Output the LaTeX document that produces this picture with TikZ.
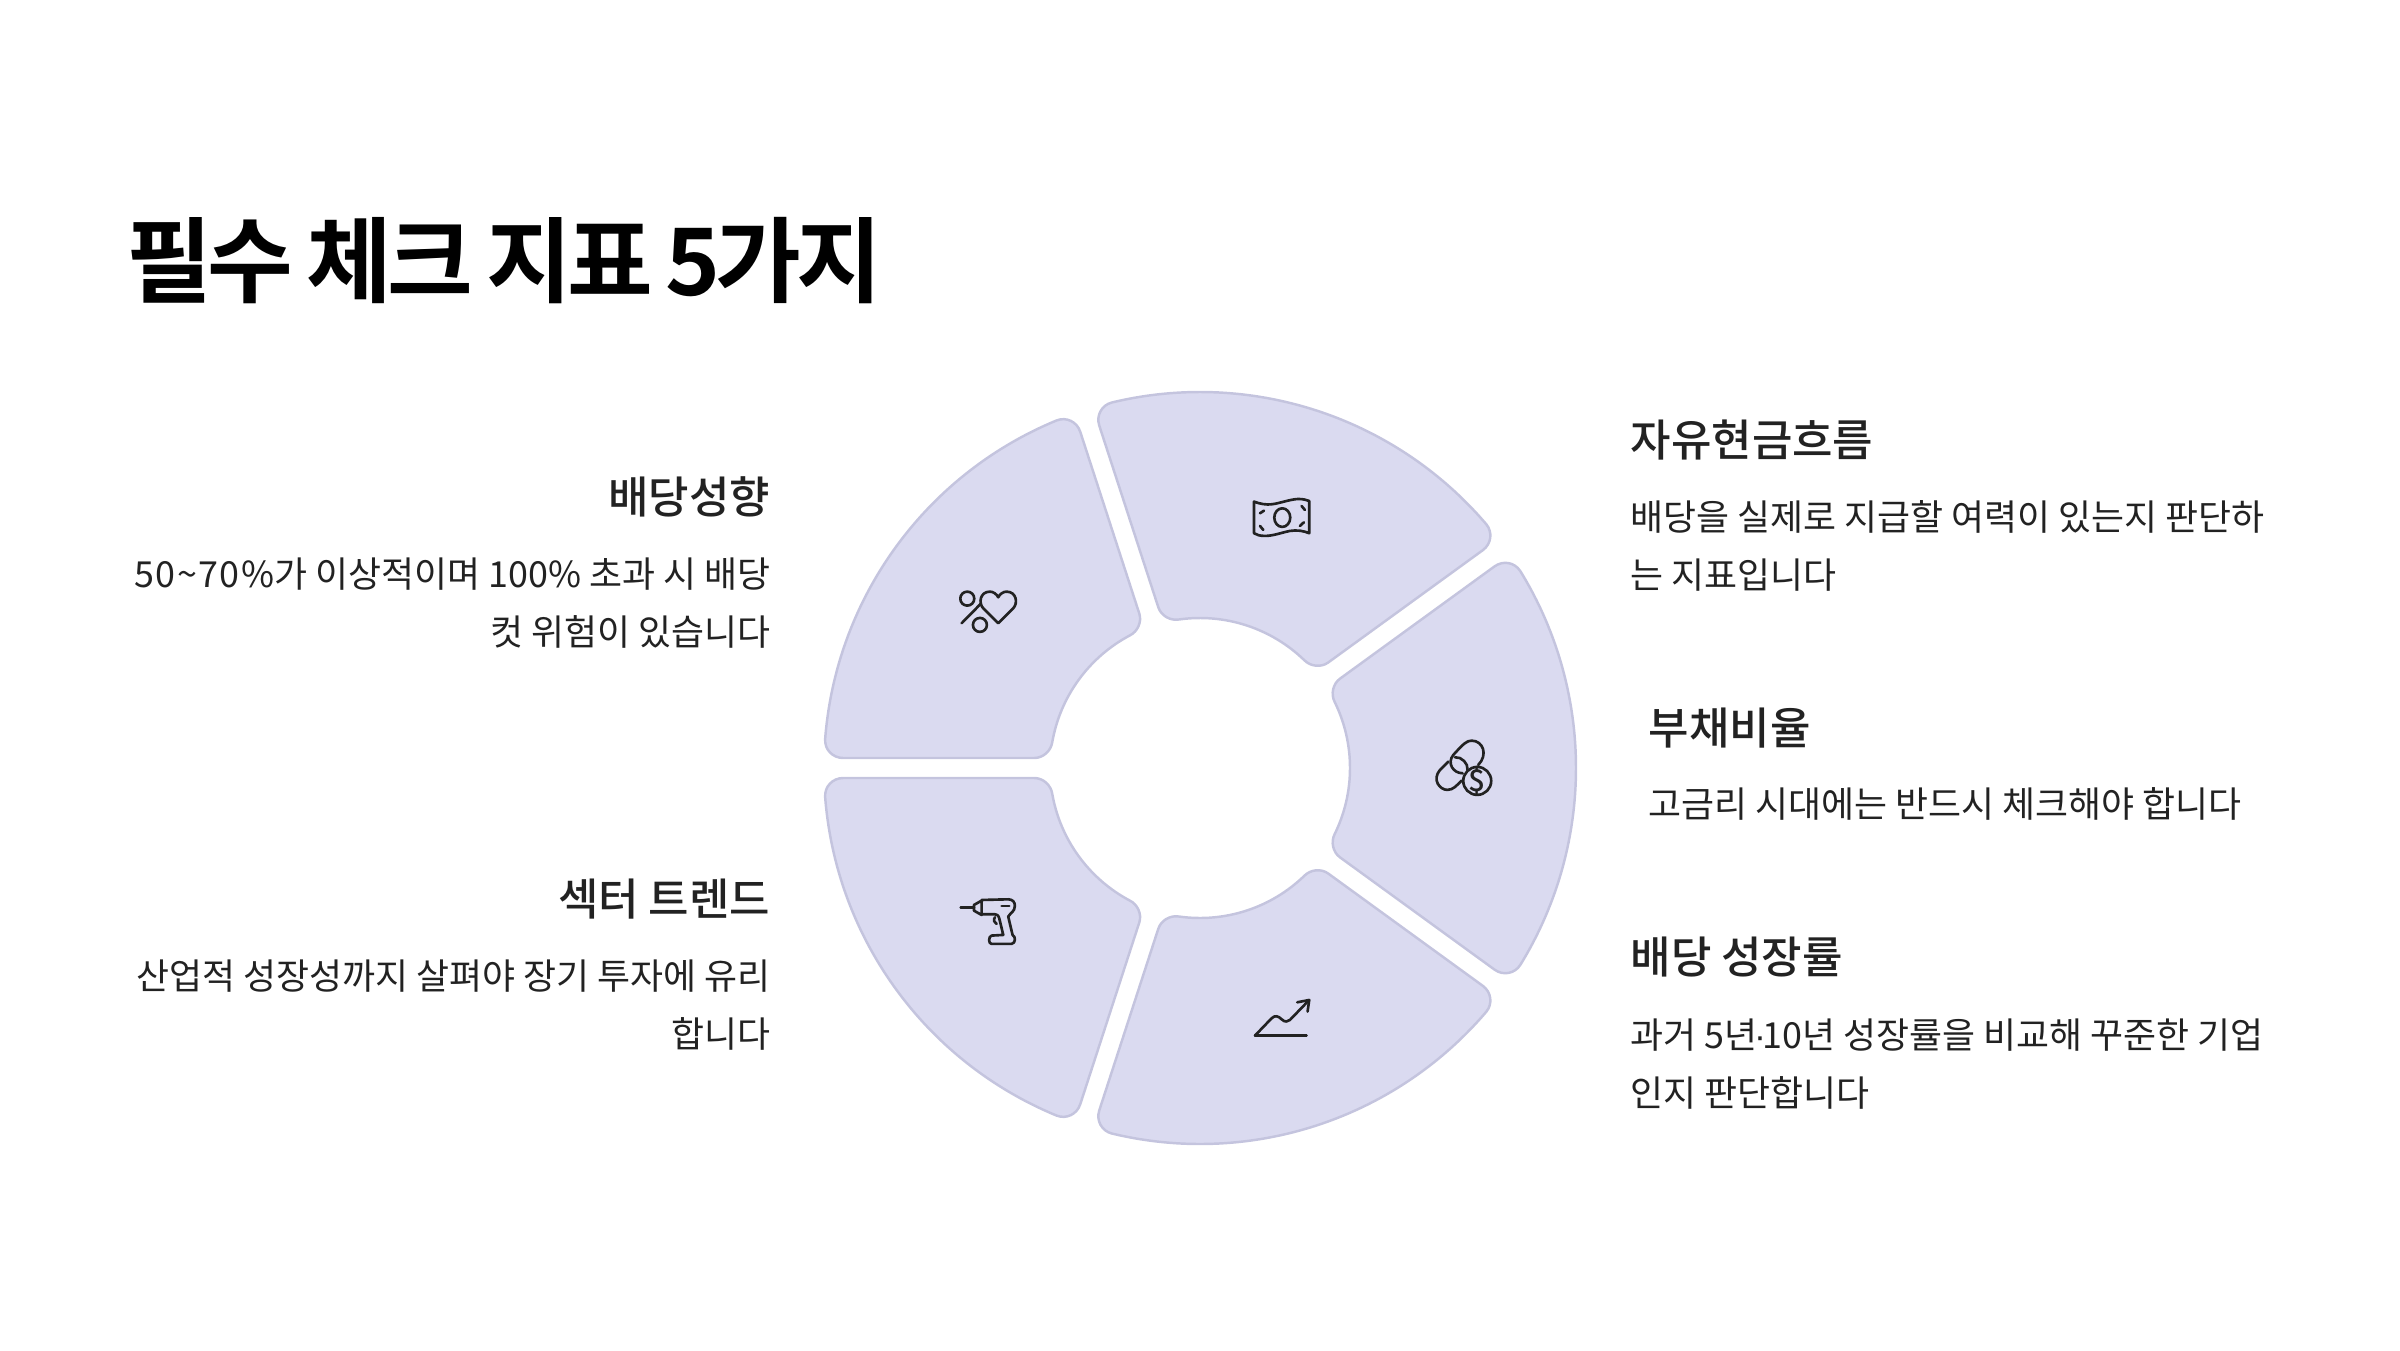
\documentclass[tikz,border=0pt]{standalone}
\usepackage{fontspec}
\setmainfont{Noto Sans CJK KR}
\newfontfamily\titlefont[LetterSpace=-5.2,WordSpace=0.8]{Noto Sans CJK KR Bold}
\newfontfamily\headfont{Noto Sans CJK KR Medium}
\newfontfamily\widefont[LetterSpace=4]{Noto Sans CJK KR}
\newfontfamily\dotfont{Liberation Sans}
\definecolor{wedgefill}{HTML}{DADAF0}
\definecolor{wedgeline}{HTML}{C4C4DE}
\definecolor{inkdark}{HTML}{222222}
\tikzset{%
  wedge/.style={draw=wedgeline, fill=wedgefill, line width=0.7pt},
  iconline/.style={draw=inkdark, line width=0.75pt, line cap=round, line join=round},
  titletext/.style={anchor=base west, inner sep=0pt, text=black, font=\fontsize{26.5}{32}\titlefont},
  headtext/.style={inner sep=0pt, text=inkdark, font=\fontsize{12.5}{16}\headfont},
  bodytext/.style={inner sep=0pt, text=inkdark, font=\fontsize{10.2}{16.3}\selectfont}
}

\begin{document}
\begin{tikzpicture}[x=0.01cm, y=0.01cm]
\useasboundingbox (0,0) rectangle (2400,1350);

\coordinate (hub) at (1200,582);

% wheel
\begin{scope}[shift={(hub)}]
\foreach \a in {0,72,144,216,288} {
  \draw [wedge, rotate=\a] (-31.585:376) arc [start angle=-31.585, end angle=31.585, radius=376]
    .. controls (33.18:376) and (34.44:367.45) .. (34.395:357) -- (32.546:166)
    .. controls (32.345:157.2) and (29.43:150) .. (26.07:150) arc [start angle=26.07, end angle=-26.07, radius=150]
    .. controls (-29.43:150) and (-32.345:157.2) .. (-32.546:166) -- (-34.395:357)
    .. controls (-34.44:367.45) and (-33.18:376) .. (-31.585:376) -- cycle;
}
\end{scope}

% heart
\begin{scope}[shift={(930,780)}, x=0.003333cm, y=-0.003333cm]
  \draw [iconline] (112,86) circle [radius=21];
  \draw [iconline] (150,165) circle [radius=21];
  \draw [iconline] (95,160) -- (152,102);
  \draw [iconline] (205,160) -- (160,115) .. controls (145,100) and (150,65) .. (180,65)
    .. controls (190,65) and (200,72) .. (205,82) .. controls (210,72) and (220,65) .. (230,65)
    .. controls (260,65) and (265,100) .. (250,115) -- cycle;
\end{scope}

% banknote
\begin{scope}[shift={(1240,870)}, x=0.003333cm, y=-0.003333cm]
  \draw [iconline] (42,65) .. controls (60,72) and (80,75) .. (95,73)
    .. controls (120,70) and (150,58) .. (175,57) .. controls (190,57) and (200,60) .. (208,63)
    -- (208,160) .. controls (190,152) and (170,150) .. (150,153)
    .. controls (125,158) and (100,168) .. (75,168) .. controls (60,168) and (50,165) .. (42,160) -- cycle;
  \draw [iconline] (127,113) ellipse [x radius=24, y radius=28];
  \draw [iconline] (60,100) -- (72,92);
  \draw [iconline] (60,138) -- (70,150);
  \draw [iconline] (185,78) -- (195,90);
  \draw [iconline] (180,138) -- (192,127);
\end{scope}

% chain and coin
\begin{scope}[shift={(1410,630)}, x=0.003333cm, y=-0.003333cm]
  \draw [iconline] (205,135) .. controls (235,105) and (220,62) .. (185,62)
    .. controls (170,62) and (160,72) .. (130,105) .. controls (110,130) and (130,160) .. (158,160);
  \draw [iconline] (115,125) -- (90,150) .. controls (65,180) and (90,210) .. (112,210)
    .. controls (130,210) and (140,197) .. (155,182);
  \draw [iconline] (135,112) .. controls (155,110) and (175,130) .. (173,150);
  \draw [iconline] (202,183) circle [radius=42];
  \node (coinmark) [inner sep=0pt, text=inkdark, font=\fontsize{8.5}{9}\headfont] at (202,183) {\$};
\end{scope}

% drill
\begin{scope}[shift={(940,470)}, x=0.003333cm, y=-0.003333cm]
  \draw [iconline] (62,83) -- (102,83);
  \draw [iconline] (102,75) -- (125,62) -- (125,105) -- (102,92) -- cycle;
  \draw [iconline] (125,60) -- (205,58) .. controls (220,58) and (225,68) .. (225,78)
    .. controls (225,95) and (210,100) .. (205,110) -- (218,165)
    .. controls (228,170) and (228,190) .. (215,192) -- (155,192)
    .. controls (145,192) and (145,170) .. (155,167) -- (190,165) -- (178,115)
    .. controls (175,105) and (170,103) .. (165,103) -- (125,103);
  \draw [iconline] (165,112) .. controls (160,120) and (162,128) .. (170,132);
  \draw [iconline] (185,78) -- (208,78);
\end{scope}

% chart
\begin{scope}[shift={(1240,370)}, x=0.003333cm, y=-0.003333cm]
  \draw [iconline] (45,167) -- (200,167);
  \draw [iconline] (45,167) -- (95,115) .. controls (105,105) and (115,108) .. (125,118)
    .. controls (135,128) and (145,125) .. (150,120) -- (208,60);
  \draw [iconline] (172,67) -- (208,60) -- (203,95);
\end{scope}

% texts
\node (title) [titletext] at (126,1055) {필수 체크 지표 5가지};

\node (payhead) [headtext, anchor=base east] at (771,837) {배당성향};
\node (paybody) [bodytext, anchor=base east, align=right] at (771,705) {{\widefont 50\char`\~70\%}가 이상적이며 100\% 초과 시 배당\\컷 위험이 있습니다};

\node (sectorhead) [headtext, anchor=base east] at (771,435) {섹터 트렌드};
\node (sectorbody) [bodytext, anchor=base east, align=right] at (771,303) {산업적 성장성까지 살펴야 장기 투자에 유리\\합니다};

\node (cashhead) [headtext, anchor=base west] at (1630,894) {자유현금흐름};
\node (cashbody) [bodytext, anchor=base west, align=left] at (1630,762) {배당을 실제로 지급할 여력이 있는지 판단하\\는 지표입니다};

\node (debthead) [headtext, anchor=base west] at (1648,606) {부채비율};
\node (debtbody) [bodytext, anchor=base west, align=left] at (1648,533) {고금리 시대에는 반드시 체크해야 합니다};

\node (growhead) [headtext, anchor=base west] at (1630,377) {배당 성장률};
\node (growbody) [bodytext, anchor=base west, align=left] at (1630,244) {과거 5년{\dotfont\kern-0.1em ·\kern-0.1em}10년 성장률을 비교해 꾸준한 기업\\인지 판단합니다};
\end{tikzpicture}
\end{document}
